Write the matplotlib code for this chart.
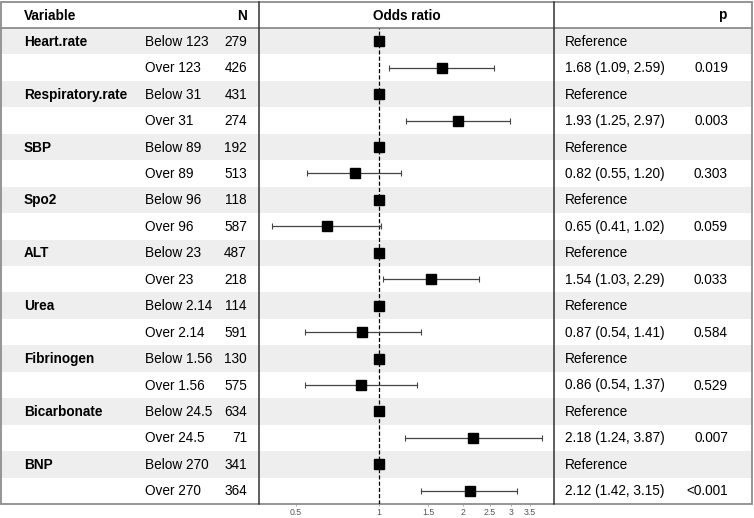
import matplotlib
matplotlib.use("Agg")
import matplotlib.pyplot as plt
from matplotlib.patches import Rectangle
from matplotlib.lines import Line2D
from matplotlib.ticker import FixedLocator, NullLocator, FixedFormatter

# ---------------- data ----------------
variables = ["Heart.rate", "Respiratory.rate", "SBP", "Spo2", "ALT", "Urea",
             "Fibrinogen", "Bicarbonate", "BNP"]
cutoffs = ["123", "31", "89", "96", "23", "2.14", "1.56", "24.5", "270"]
n_below = [279, 431, 192, 118, 487, 114, 130, 634, 341]
n_over = [426, 274, 513, 587, 218, 591, 575, 71, 364]
or_over = [1.68, 1.93, 0.82, 0.65, 1.54, 0.87, 0.86, 2.18, 2.12]
ci_low = [1.09, 1.25, 0.55, 0.41, 1.03, 0.54, 0.54, 1.24, 1.42]
ci_high = [2.59, 2.97, 1.20, 1.02, 2.29, 1.41, 1.37, 3.87, 3.15]
p_values = ["0.019", "0.003", "0.303", "0.059", "0.033", "0.584", "0.529",
            "0.007", "<0.001"]
tick_values = [0.5, 1, 1.5, 2, 2.5, 3, 3.5]
tick_labels = ["0.5", "1", "1.5", "2", "2.5", "3", "3.5"]

plt.rcParams["font.family"] = ["Liberation Sans", "DejaVu Sans"]

W, H = 754, 518
fig = plt.figure(figsize=(W / 100, H / 100), dpi=100)

# layout in pixels
top, head_bot, bot = 2, 28, 504
left, right = 1, 752
vx1, vx2 = 259, 554
nrows = 2 * len(variables)
rh = (bot - head_bot) / nrows
fs = 9.8
shade = "#eeeeee"

# background/table axes in pixel coordinates
bg = fig.add_axes([0, 0, 1, 1])
bg.set_xlim(0, W)
bg.set_ylim(H, 0)
bg.axis("off")

for i in range(nrows):
    if i % 2 == 0:
        bg.add_patch(Rectangle((left, head_bot + i * rh), right - left, rh,
                               facecolor=shade, edgecolor="none", zorder=0))

# header
hy = (top + head_bot) / 2 + 0.5
bg.text(24, hy, "Variable", fontsize=fs, fontweight="bold", va="center", ha="left")
bg.text(247, hy, "N", fontsize=fs, fontweight="bold", va="center", ha="right")
bg.text((vx1 + vx2) / 2, hy, "Odds ratio", fontsize=fs, fontweight="bold",
        va="center", ha="center")
bg.text(726, hy, "p", fontsize=fs, fontweight="bold", va="center", ha="right")

for k, var in enumerate(variables):
    yb = head_bot + (2 * k + 0.5) * rh + 0.5
    yo = head_bot + (2 * k + 1.5) * rh + 0.5
    bg.text(24, yb, var, fontsize=fs, fontweight="bold", va="center", ha="left")
    bg.text(145, yb, "Below " + cutoffs[k], fontsize=fs, va="center", ha="left")
    bg.text(145, yo, "Over " + cutoffs[k], fontsize=fs, va="center", ha="left")
    bg.text(247, yb, str(n_below[k]), fontsize=fs, va="center", ha="right")
    bg.text(247, yo, str(n_over[k]), fontsize=fs, va="center", ha="right")
    bg.text(565, yb, "Reference", fontsize=fs, va="center", ha="left")
    bg.text(565, yo, f"{or_over[k]:.2f} ({ci_low[k]:.2f}, {ci_high[k]:.2f})",
            fontsize=fs, va="center", ha="left")
    bg.text(728, yo, p_values[k], fontsize=fs, va="center", ha="right")

# borders
gray = "#8c8c8c"
bg.add_patch(Rectangle((left, top), right - left, bot - top, facecolor="none",
                       edgecolor=gray, lw=1.3, zorder=5))
bg.add_line(Line2D([left, right], [head_bot, head_bot], color=gray, lw=1.3, zorder=5))
bg.add_line(Line2D([vx1, vx1], [top, bot], color="#333333", lw=1.1, zorder=5))
bg.add_line(Line2D([vx2, vx2], [top, bot], color="#333333", lw=1.1, zorder=5))

# forest axes
ax = fig.add_axes([vx1 / W, (H - bot) / H, (vx2 - vx1) / W, (bot - head_bot) / H])
ax.patch.set_alpha(0)
ax.set_xscale("log")
ax.set_xlim(0.369, 4.27)
ax.set_ylim(nrows, 0)
for s in ax.spines.values():
    s.set_visible(False)
ax.yaxis.set_major_locator(NullLocator())
ax.xaxis.set_major_locator(FixedLocator(tick_values))
ax.xaxis.set_major_formatter(FixedFormatter(tick_labels))
ax.xaxis.set_minor_locator(NullLocator())
ax.tick_params(axis="x", length=1.5, width=0.6, color="#999999", labelsize=6.3,
               labelcolor="#555555", pad=1.2)

ax.axvline(1, color="black", lw=0.9, ls=(0, (3.3, 1.7)), zorder=1)

ref_y = [2 * k + 0.5 for k in range(len(variables))]
over_y = [2 * k + 1.5 for k in range(len(variables))]
ax.plot([1] * len(ref_y), ref_y, "s", color="black", ms=7.5, zorder=4)
lo_err = [o - l for o, l in zip(or_over, ci_low)]
hi_err = [h - o for o, h in zip(or_over, ci_high)]
ax.errorbar(or_over, over_y, xerr=[lo_err, hi_err], fmt="s", color="black",
            ms=7.5, ecolor="#444444", elinewidth=0.9, capsize=2.5,
            capthick=0.8, zorder=4)

fig.savefig("out.png", dpi=100)
